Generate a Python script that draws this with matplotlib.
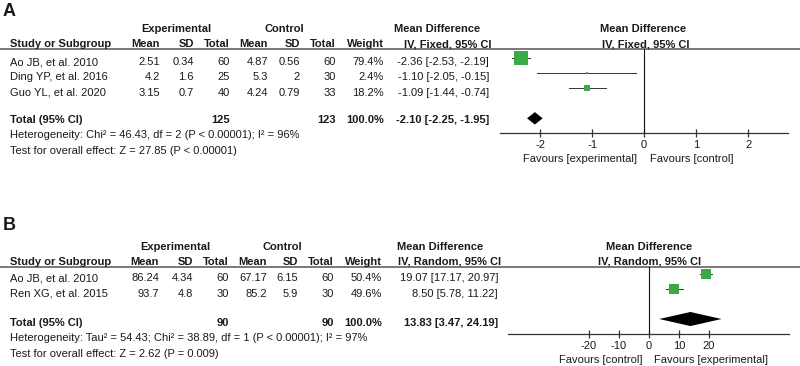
import matplotlib
matplotlib.use("Agg")
import matplotlib.pyplot as plt
import numpy as np

plt.rcParams['font.family'] = ['Liberation Sans', 'DejaVu Sans']
plt.rcParams['font.size'] = 8

# ---------------- Data: panel A ----------------
a_studies = ["Ao JB, et al. 2010", "Ding YP, et al. 2016", "Guo YL, et al. 2020"]
a_exp_mean = [2.51, 4.2, 3.15]
a_exp_sd = [0.34, 1.6, 0.7]
a_exp_n = [60, 25, 40]
a_ctl_mean = [4.87, 5.3, 4.24]
a_ctl_sd = [0.56, 2, 0.79]
a_ctl_n = [60, 30, 33]
a_weight = [79.4, 2.4, 18.2]
a_md = [-2.36, -1.10, -1.09]
a_lo = [-2.53, -2.05, -1.44]
a_hi = [-2.19, -0.15, -0.74]
a_total = {"exp_n": 125, "ctl_n": 123, "weight": 100.0, "md": -2.10, "lo": -2.25, "hi": -1.95}
a_het = "Heterogeneity: Chi² = 46.43, df = 2 (P < 0.00001); I² = 96%"
a_test = "Test for overall effect: Z = 27.85 (P < 0.00001)"
a_method = "IV, Fixed, 95% CI"
a_ticks = [-2, -1, 0, 1, 2]
a_fav_left = "Favours [experimental]"
a_fav_right = "Favours [control]"

# ---------------- Data: panel B ----------------
b_studies = ["Ao JB, et al. 2010", "Ren XG, et al. 2015"]
b_exp_mean = [86.24, 93.7]
b_exp_sd = [4.34, 4.8]
b_exp_n = [60, 30]
b_ctl_mean = [67.17, 85.2]
b_ctl_sd = [6.15, 5.9]
b_ctl_n = [60, 30]
b_weight = [50.4, 49.6]
b_md = [19.07, 8.50]
b_lo = [17.17, 5.78]
b_hi = [20.97, 11.22]
b_total = {"exp_n": 90, "ctl_n": 90, "weight": 100.0, "md": 13.83, "lo": 3.47, "hi": 24.19}
b_het = "Heterogeneity: Tau² = 54.43; Chi² = 38.89, df = 1 (P < 0.00001); I² = 97%"
b_test = "Test for overall effect: Z = 2.62 (P = 0.009)"
b_method = "IV, Random, 95% CI"
b_ticks = [-20, -10, 0, 10, 20]
b_fav_left = "Favours [control]"
b_fav_right = "Favours [experimental]"

# ---------------- Figure ----------------
W, H, DPI = 800, 366, 100
fig = plt.figure(figsize=(W / DPI, H / DPI), dpi=DPI)
ov = fig.add_axes([0, 0, 1, 1])
ov.set_xlim(0, W)
ov.set_ylim(H, 0)
ov.axis('off')

TXT = '#1a1a1a'
GREEN = '#3aaa49'
SEP = '#6e6e6e'


def fmt(v):
    return str(v)


def panel(label, label_base, top, cols, md_right, head_centers, studies, em, esd, en,
          cm, csd, cn, wt, md, lo, hi, tot, het, test, method, ax_box, xlim, ylim,
          ticks, fav_l, fav_r, fav_gap, fav_base, sq_max, dia_h, tot_idx):
    h1, h2, r0, rstep, tb, hb, teb = top
    ov.text(3, label_base, label, fontsize=13, fontweight='bold', color=TXT, va='baseline')
    # header row 1
    ov.text(head_centers[0], h1, "Experimental", ha='center', va='baseline', fontweight='bold', color=TXT)
    ov.text(head_centers[1], h1, "Control", ha='center', va='baseline', fontweight='bold', color=TXT)
    ov.text(head_centers[2], h1, "Mean Difference", ha='center', va='baseline', fontweight='bold', color=TXT)
    ov.text(head_centers[4], h1, "Mean Difference", ha='center', va='baseline', fontweight='bold', color=TXT)
    # header row 2
    ov.text(10, h2, "Study or Subgroup", ha='left', va='baseline', fontweight='bold', color=TXT)
    for x, s in zip(cols, ["Mean", "SD", "Total", "Mean", "SD", "Total", "Weight"]):
        ov.text(x, h2, s, ha='right', va='baseline', fontweight='bold', color=TXT)
    ov.text(head_centers[3], h2, method, ha='center', va='baseline', fontweight='bold', color=TXT)
    ov.text(head_centers[5], h2, method, ha='center', va='baseline', fontweight='bold', color=TXT)
    # separator
    sep_y = ax_box[1]
    ov.plot([0, W], [sep_y, sep_y], color=SEP, lw=1.3, solid_capstyle='butt')
    # rows
    for i, s in enumerate(studies):
        y = r0 + i * rstep
        ov.text(10, y, s, ha='left', va='baseline', color=TXT)
        vals = [fmt(em[i]), fmt(esd[i]), fmt(en[i]), fmt(cm[i]), fmt(csd[i]), fmt(cn[i]),
                f"{wt[i]:.1f}%"]
        for x, v in zip(cols, vals):
            ov.text(x, y, v, ha='right', va='baseline', color=TXT)
        ov.text(md_right, y, f"{md[i]:.2f} [{lo[i]:.2f}, {hi[i]:.2f}]", ha='right', va='baseline', color=TXT)
    # total
    ov.text(10, tb, "Total (95% CI)", ha='left', va='baseline', fontweight='bold', color=TXT)
    ov.text(cols[2], tb, str(tot["exp_n"]), ha='right', va='baseline', fontweight='bold', color=TXT)
    ov.text(cols[5], tb, str(tot["ctl_n"]), ha='right', va='baseline', fontweight='bold', color=TXT)
    ov.text(cols[6], tb, f"{tot['weight']:.1f}%", ha='right', va='baseline', fontweight='bold', color=TXT)
    ov.text(md_right, tb, f"{tot['md']:.2f} [{tot['lo']:.2f}, {tot['hi']:.2f}]", ha='right',
            va='baseline', fontweight='bold', color=TXT)
    ov.text(10, hb, het, ha='left', va='baseline', color=TXT)
    ov.text(10, teb, test, ha='left', va='baseline', color=TXT)

    # forest axes
    x0, y0, x1, y1 = ax_box
    ax = fig.add_axes([x0 / W, 1 - y1 / H, (x1 - x0) / W, (y1 - y0) / H])
    ax.set_xlim(*xlim)
    ax.set_ylim(*ylim)
    ax.patch.set_alpha(0)
    for sp in ['top', 'left', 'right']:
        ax.spines[sp].set_visible(False)
    ax.spines['bottom'].set_color('#333333')
    ax.spines['bottom'].set_linewidth(0.9)
    ax.set_yticks([])
    ax.set_xticks(ticks)
    ax.set_xticklabels([str(t) for t in ticks])
    ax.tick_params(axis='x', direction='inout', length=6, width=0.9, color='#333333',
                   labelsize=8, labelcolor=TXT, pad=2)
    ax.axvline(0, color='#111111', lw=0.8)
    wmax = max(wt)
    for i in range(len(studies)):
        ax.plot([lo[i], hi[i]], [i, i], color='#3a3a3a', lw=0.75, zorder=2)
        side_px = max(2.2, sq_max * (wt[i] / wmax) ** 0.7)
        ax.plot([md[i]], [i], marker='s', color=GREEN, markersize=side_px * 72 / DPI,
                markeredgewidth=0, zorder=3)
    yd = tot_idx
    ax.fill([tot['lo'], tot['md'], tot['hi'], tot['md']], [yd, yd - dia_h, yd, yd + dia_h],
            color='black', lw=0, zorder=3)
    # favours labels
    zero_px = x0 + (0 - xlim[0]) / (xlim[1] - xlim[0]) * (x1 - x0)
    ov.text(zero_px - fav_gap[0], fav_base, fav_l, ha='right', va='baseline', color=TXT)
    ov.text(zero_px + fav_gap[1], fav_base, fav_r, ha='left', va='baseline', color=TXT)
    return ax


panel("A", 15.5,
      (32, 47.3, 65.3, 15.1, 123.3, 138.5, 153.5),
      [160, 194, 230, 268, 300, 336, 384], 489,
      [176, 284, 437, 448, 643.5, 645.7],
      a_studies, a_exp_mean, a_exp_sd, a_exp_n, a_ctl_mean, a_ctl_sd, a_ctl_n,
      a_weight, a_md, a_lo, a_hi, a_total, a_het, a_test, a_method,
      (500, 49.3, 788.3, 133.3), (-2.77, 2.77), (4.99, -0.56),
      a_ticks, a_fav_left, a_fav_right, (7, 6), 162, 14.5, 0.41, 4)

panel("B", 230.5,
      (249.7, 264.7, 281.3, 15.3, 325.7, 341.3, 357),
      [159, 193, 229, 267, 298, 334, 382], 498,
      [175.5, 282, 440.5, 450, 649, 650],
      b_studies, b_exp_mean, b_exp_sd, b_exp_n, b_ctl_mean, b_ctl_sd, b_ctl_n,
      b_weight, b_md, b_lo, b_hi, b_total, b_het, b_test, b_method,
      (508.3, 267.3, 789.3, 334), (-46.7, 46.7), (4.0, -0.45),
      b_ticks, b_fav_left, b_fav_right, (6, 5.5), 363, 10.3, 0.47, 3)

fig.savefig("out.png", dpi=DPI)
